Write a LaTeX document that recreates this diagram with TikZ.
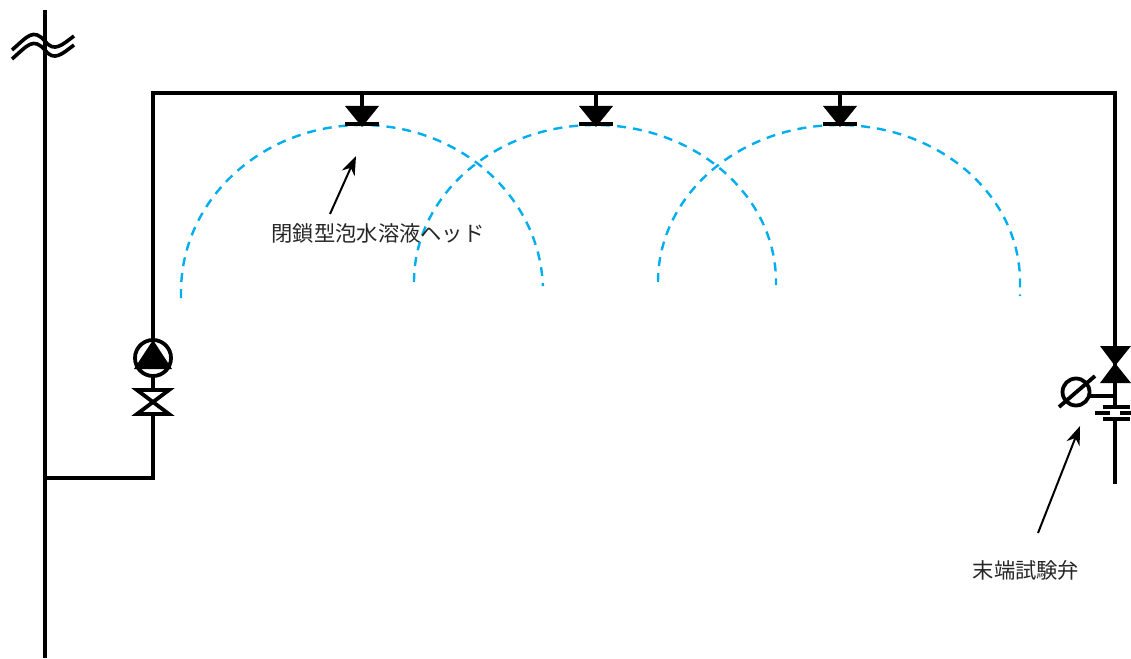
\documentclass[tikz,border=0pt]{standalone}
\usepackage{fontspec}
\newfontfamily\jp{Noto Sans CJK JP}
\usetikzlibrary{arrows.meta}
\definecolor{spray}{RGB}{0,174,239}
\tikzset{
  x=1pt,y=-1pt,
  pipe/.style={line width=3.8pt,black,line cap=butt},
  thinpipe/.style={line width=3.6pt,black},
  sprayarc/.style={spray,line width=2.4pt,dash pattern=on 9pt off 7pt},
  pointer/.style={line width=2pt,black,-{Stealth[length=19pt,width=14pt]}},
  lbl/.style={font=\jp\fontsize{21.3}{24}\selectfont,text=black!85,inner sep=0pt,anchor=center}
}
\newcommand{\headsym}[1]{%
  \draw[pipe] (#1,93) -- (#1,110);
  \fill[black] (#1-17,106) -- (#1+17,106) -- (#1,127) -- cycle;
  \draw[line width=4pt] (#1-17,124) -- (#1+17,124);
}
\begin{document}
\begin{tikzpicture}
\useasboundingbox (0,0) rectangle (1131,658);
\fill[white] (0,0) rectangle (1131,658);
% spray arcs
\draw[sprayarc] (181,298) -- (181,292) arc[start angle=180,end angle=358,x radius=181,y radius=167];
\draw[sprayarc] (414,282) arc[start angle=180,end angle=360,x radius=181,y radius=157] -- ++(0,3);
\draw[sprayarc] (658,282) arc[start angle=180,end angle=360,x radius=181,y radius=157] -- ++(0,14);
% main pipes
\coordinate (risertop) at (45,10);
\coordinate (riserbot) at (45,658);
\coordinate (tee) at (45,478);
\coordinate (elbow) at (153,478);
\coordinate (tl) at (153,93);
\coordinate (tr) at (1115,93);
\coordinate (drain) at (1115,484);
\draw[pipe] (risertop) -- (riserbot);
\draw[pipe,line join=miter] (tee) -- (elbow) -- (tl) -- (tr) -- (drain);
% break mark
\draw[thinpipe] (12,50) .. controls (28,36) and (33,28) .. (45,41) .. controls (54,53) and (62,45) .. (74,36);
\draw[thinpipe] (12,59) .. controls (28,45) and (33,37) .. (45,50) .. controls (54,62) and (62,54) .. (74,45);
% heads
\headsym{362}
\headsym{596}
\headsym{840}
% left pump + valve
\fill[white] (153,358) circle (18);
\draw[line width=3.8pt] (153,358) circle (18);
\fill[black] (153,340) -- (172,369) -- (134,369) -- cycle;
\fill[white] (137,389) rectangle (169,416);
\draw[line width=3.8pt,line join=miter] (137,390) -- (169,390) -- (137,414) -- (169,414) -- cycle;
% right valve (filled)
\fill[black] (1100,346) -- (1131,346) -- (1115,366) -- cycle;
\fill[black] (1100,383) -- (1131,383) -- (1115,363) -- cycle;
% gauge
\draw[line width=3.8pt] (1076,392) circle (13.5);
\draw[line width=3.8pt] (1059,407) -- (1095,376);
\draw[line width=3.8pt] (1089,396) -- (1115,396);
% orifice plates
\fill[white] (1094,405) rectangle (1131,421);
\draw[line width=3.6pt] (1103,407) -- (1130,407);
\draw[line width=3.6pt] (1095,413) -- (1110,413);
\draw[line width=3.6pt] (1120,413) -- (1131,413);
\draw[line width=3.6pt] (1103,419) -- (1130,419);
\draw[pipe] (1115,396) -- (1115,407);
\draw[pipe] (1115,419) -- (1115,430);
% labels
\node[lbl] (headlabel) at (378,233) {閉鎖型泡水溶液ヘッド};
\node[lbl] (valvelabel) at (1026,570) {末端試験弁};
\coordinate (headtip) at (356,156);
\coordinate (valvetip) at (1080,426);
\draw[pointer] (330,214) -- (headtip);
\draw[pointer] (1038,533) -- (valvetip);
\end{tikzpicture}
\end{document}
